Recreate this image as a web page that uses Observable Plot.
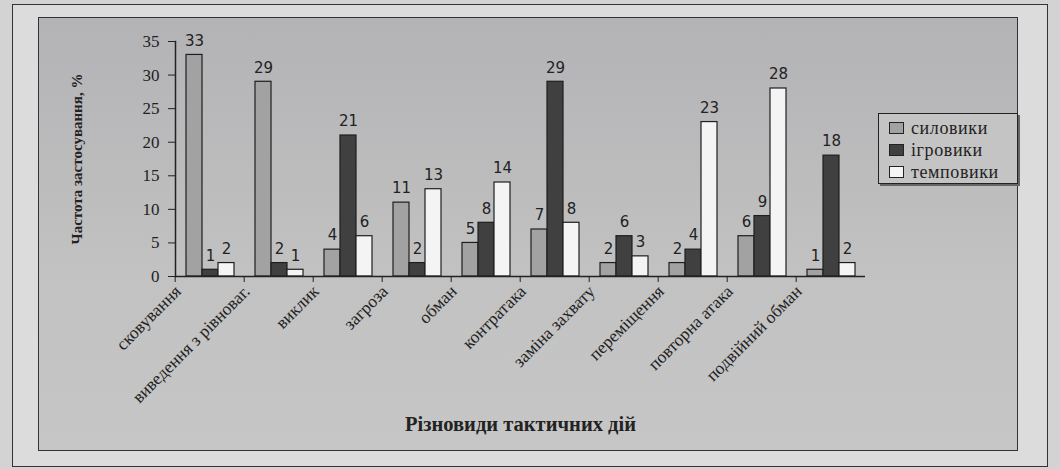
<!DOCTYPE html>
<html><head><meta charset="utf-8">
<script src="https://cdn.jsdelivr.net/npm/d3@7"></script>
<script src="https://cdn.jsdelivr.net/npm/@observablehq/plot@0.6"></script>
<style>
body{margin:0;background:#d3d3d3;width:1060px;height:469px;overflow:hidden;position:relative;font-family:"Liberation Serif",serif}
#outer{position:absolute;left:12px;top:4px;width:1036px;height:463px;border:1.5px solid #333;background:#dcdcdc;box-sizing:border-box}
#inner{position:absolute;left:38px;top:17px;width:980px;height:434px;border:1.5px solid #333;background:linear-gradient(#b3b2b5,#c2c2c2 60%,#c6c6c6);box-sizing:border-box}
#chart{position:absolute;left:0;top:0}
#legend{position:absolute;left:878px;top:113px;width:140px;height:71px;border:1.5px solid #222;box-shadow:2px 2px 0 #666;background:#c4c4c4;box-sizing:border-box;padding:3px 0 0 10px}
.item{display:flex;align-items:center;height:22px;font-size:18px;color:#222;letter-spacing:0.6px}
.sw{width:15px;height:12px;border:1px solid #222;margin-right:7px;box-sizing:border-box}
</style></head><body>
<div id="outer"></div><div id="inner"></div><div id="chart"></div><div id="legend"></div>
<script>
const categories = ["сковування","виведення з рівноваг.","виклик","загроза","обман","контратака","заміна захвату","переміщення","повторна атака","подвійний обман"];
const series = ["силовики","ігровики","темповики"];
const sylovyky = [33,29,4,11,5,7,2,2,6,1];
const ihrovyky = [1,2,21,2,8,29,6,4,9,18];
const tempovyky = [2,1,6,13,14,8,3,23,28,2];
const yTicks = [0,5,10,15,20,25,30,35];
const colors = ["#a2a2a2","#404040","#f4f4f4"];
const yTitle = "Частота застосування, %";
const xTitle = "Різновиди тактичних дій";

const seriesValues = [sylovyky, ihrovyky, tempovyky];
const rows = [];
categories.forEach((c, i) => seriesValues.forEach((arr, j) => rows.push({category: c, series: series[j], value: arr[i]})));

const W = 1060, H = 469, ML = 172, MR = 192, MT = 41, MB = 193;
const half = (W - ML - MR) / categories.length / 2;

const chart = Plot.plot({
  width: W, height: H,
  marginLeft: ML, marginRight: MR, marginTop: MT, marginBottom: MB,
  style: {background: "transparent", fontFamily: "Liberation Serif", color: "#222", overflow: "visible"},
  fx: {domain: categories, padding: 0},
  x: {domain: series, paddingInner: 0, paddingOuter: 0.58, axis: null},
  y: {domain: [0, 35]},
  color: {domain: series, range: colors},
  marks: [
    Plot.barY(rows, {fx: "category", x: "series", y: "value", fill: "series", stroke: "#1e1e1e", strokeWidth: 1.2}),
    Plot.text(rows, {fx: "category", x: "series", y: "value", text: "value", dy: -14, fontSize: 15, fontFamily: "DejaVu Sans", fill: "#222"}),
    Plot.ruleY([0], {stroke: "#222", strokeWidth: 1.5}),
    Plot.frame({anchor: "left", facetAnchor: "left", stroke: "#222", strokeWidth: 1.5}),
    Plot.axisY({ticks: yTicks, tickSize: 7, tickPadding: 9, fontSize: 17, label: null}),
    Plot.axisY({ticks: [], label: yTitle, labelAnchor: "center", labelOffset: 104, fontSize: 15, fontWeight: "bold", labelArrow: "none", dy: -7}),
    Plot.axisFx({anchor: "bottom", tickSize: 6, text: null, dx: -half, label: null}),
    Plot.axisFx({anchor: "bottom", tickSize: 0, tickPadding: 12, tickRotate: -45, dx: -32, fontSize: 17.5, label: null}),
    Plot.axisFx({anchor: "bottom", ticks: [], label: xTitle, labelAnchor: "center", labelOffset: 154, fontSize: 20.5, fontWeight: "bold", labelArrow: "none"})
  ]
});
document.getElementById("chart").appendChild(chart);

const legend = document.getElementById("legend");
series.forEach((s, j) => {
  const it = document.createElement("div");
  it.className = "item";
  it.innerHTML = `<span class="sw" style="background:${colors[j]}"></span><span>${s}</span>`;
  legend.appendChild(it);
});
</script>
</body></html>
